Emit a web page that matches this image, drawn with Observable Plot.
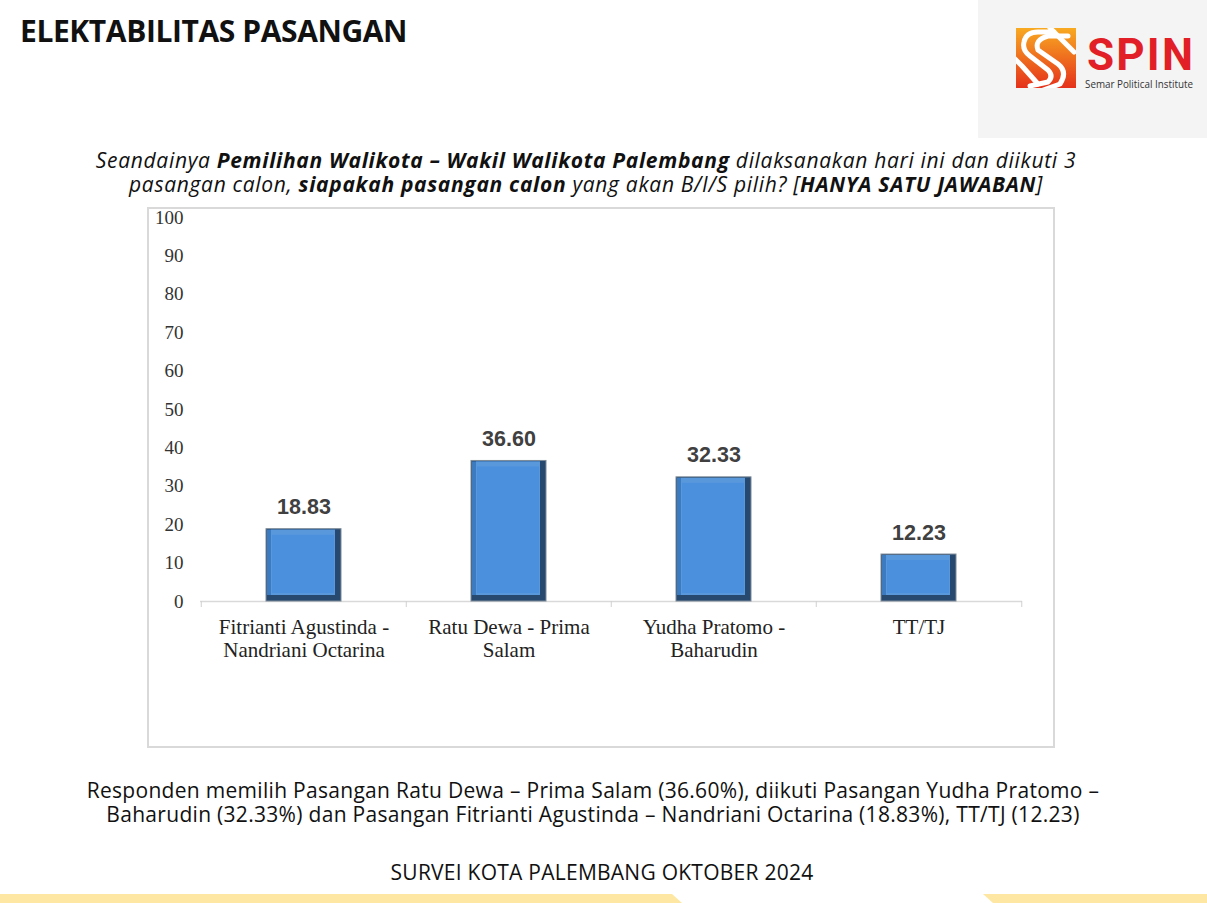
<!DOCTYPE html>
<html>
<head>
<meta charset="utf-8">
<script src="https://cdn.jsdelivr.net/npm/d3@7"></script>
<script src="https://cdn.jsdelivr.net/npm/@observablehq/plot@0.6"></script>
<style>
  html, body { margin: 0; padding: 0; background: #fff; }
  #page { position: relative; width: 1207px; height: 903px; overflow: hidden; background: #fff; }
  #title { position: absolute; left: 20px; top: 10px; font-family: "Open Sans", sans-serif; font-weight: 700; font-size: 30px; color: #111; letter-spacing: -0.4px; white-space: nowrap; }
  #logo { position: absolute; left: 978px; top: 0; width: 229px; height: 138px; background: #f4f4f4; }
  #subtitle { position: absolute; left: 0; width: 1172px; top: 148px; text-align: center; font-family: "Open Sans", sans-serif; font-style: italic; font-size: 21px; letter-spacing: 0.68px; line-height: 24px; color: #111; white-space: nowrap; }
  #frame { position: absolute; left: 147px; top: 207px; width: 908px; height: 541px; box-sizing: border-box; border: 2px solid #d9d9d9; }
  #chart { position: absolute; left: 147px; top: 207px; }
  #caption { position: absolute; left: 0; width: 1186px; top: 778px; text-align: center; font-family: "Open Sans", sans-serif; font-size: 21px; letter-spacing: 0.3px; line-height: 24px; color: #111; white-space: nowrap; }
  #footer { position: absolute; left: 0; width: 1204px; top: 858px; text-align: center; font-family: "Open Sans", sans-serif; font-size: 21px; letter-spacing: 0.25px; color: #111; white-space: nowrap; }
  .stripe { position: absolute; top: 894px; height: 9px; background: #fde7a2; }
</style>
</head>
<body>
<div id="page">
  <div id="title">ELEKTABILITAS PASANGAN</div>
  <div id="logo">
    <svg width="229" height="138" viewBox="0 0 229 138">
      <defs>
        <linearGradient id="lg" x1="0" y1="0" x2="0" y2="1">
          <stop offset="0" stop-color="#f8aa22"/>
          <stop offset="1" stop-color="#e5311b"/>
        </linearGradient>
        <clipPath id="sq"><rect x="38" y="28" width="60" height="60"/></clipPath>
      </defs>
      <rect x="38" y="28" width="60" height="60" fill="url(#lg)"/>
      <g clip-path="url(#sq)" fill="none" stroke="#fff" stroke-width="5" stroke-linecap="round" stroke-linejoin="round">
        <path d="M76 32 L60 32 Q48 32 46 42 Q44 50 52 56 L70 70 Q76 76 70 82 L52 86"/>
        <path d="M90 36 L70 36 Q56 40 60 50 L80 64 Q90 72 82 84 L60 92"/>
        <path d="M30 52 L44 66 L60 84"/>
        <path d="M72 28 L96 52"/>
      </g>
      <text x="109" y="70" font-family="Roboto, sans-serif" font-weight="700" font-size="44" fill="#e21f26" textLength="106" lengthAdjust="spacing">SPIN</text>
      <text x="107" y="88" font-family="'Open Sans', sans-serif" font-size="11" fill="#333" textLength="108" lengthAdjust="spacingAndGlyphs">Semar Political Institute</text>
    </svg>
  </div>
  <div id="subtitle">Seandainya <b>Pemilihan Walikota – Wakil Walikota Palembang</b> dilaksanakan hari ini dan diikuti 3<br>pasangan calon, <b>siapakah pasangan calon</b> yang akan B/I/S pilih? [<b>HANYA SATU JAWABAN</b>]</div>
  <div id="frame"></div>
  <div id="chart"></div>
  <div id="caption">Responden memilih Pasangan Ratu Dewa – Prima Salam (36.60%), diikuti Pasangan Yudha Pratomo –<br>Baharudin (32.33%) dan Pasangan Fitrianti Agustinda – Nandriani Octarina (18.83%), TT/TJ (12.23)</div>
  <div id="footer">SURVEI KOTA PALEMBANG OKTOBER 2024</div>
  <div class="stripe" style="left:0; width:682px; clip-path: polygon(0 0, 672px 0, 682px 100%, 0 100%);"></div>
  <div class="stripe" style="left:983px; width:224px; clip-path: polygon(0 0, 100% 0, 100% 100%, 10px 100%);"></div>
</div>
<script>
const categories = [
  "Fitrianti Agustinda - Nandriani Octarina",
  "Ratu Dewa - Prima Salam",
  "Yudha Pratomo - Baharudin",
  "TT/TJ"
];
const categoryLabels = [
  "Fitrianti Agustinda -\nNandriani Octarina",
  "Ratu Dewa - Prima\nSalam",
  "Yudha Pratomo -\nBaharudin",
  "TT/TJ"
];
const values = [18.83, 36.60, 32.33, 12.23];
const yTicks = [0, 10, 20, 30, 40, 50, 60, 70, 80, 90, 100];

const data = categories.map((c, i) => ({category: c, label: categoryLabels[i], value: values[i]}));

const W = 908, H = 541, ML = 53, MR = 33, MT = 10, MB = 147;
const step = (W - ML - MR) / categories.length;
const serif = "'Liberation Serif', 'Times New Roman', serif";

const chart = Plot.plot({
  width: W, height: H,
  marginLeft: ML, marginRight: MR, marginTop: MT, marginBottom: MB,
  style: {background: "transparent", fontFamily: serif, fontSize: "19px", color: "#333"},
  x: {domain: categories, paddingInner: 0.635, paddingOuter: 0.3175, axis: null},
  y: {domain: [0, 100], axis: null},
  marks: [
    Plot.axisY({ticks: yTicks, tickSize: 0, tickPadding: 17, label: null, fontFamily: serif, fontSize: 19, fill: "#333"}),
    Plot.ruleY([0], {stroke: "#d9d9d9", strokeWidth: 1.5}),
    Plot.ruleX(categories, {x: d => d, dx: -step / 2, y1: 0, y2: 0, insetBottom: -6, stroke: "#d0d0d0"}),
    Plot.ruleX([categories[categories.length - 1]], {x: d => d, dx: step / 2, y1: 0, y2: 0, insetBottom: -6, stroke: "#d0d0d0"}),
    Plot.barY(data, {x: "category", y: "value", fill: "#27496f", stroke: "#7d8a98", strokeWidth: 1}),
    Plot.barY(data, {x: "category", y: "value", fill: "#3c7bc0", insetLeft: 1, insetTop: 1, insetRight: 6, insetBottom: 6}),
    Plot.barY(data, {x: "category", y: "value", fill: "#5a98dc", insetLeft: 5, insetTop: 1, insetRight: 6, insetBottom: 6}),
    Plot.barY(data, {x: "category", y: "value", fill: "#4a90dc", insetLeft: 6, insetRight: 7, insetTop: 6, insetBottom: 8}),
    Plot.text(data, {x: "category", y: "value", text: d => d.value.toFixed(2), dy: -15, lineAnchor: "bottom",
      fontFamily: "'Liberation Sans', Arial, sans-serif", fontWeight: "bold", fontSize: 21.5, fill: "#404040"}),
    Plot.text(data, {x: "category", y: 0, text: "label", dy: 15, lineAnchor: "top", lineHeight: 1.14,
      fontFamily: serif, fontSize: 21, fill: "#222"})
  ]
});
document.getElementById("chart").appendChild(chart);
</script>
</body>
</html>
